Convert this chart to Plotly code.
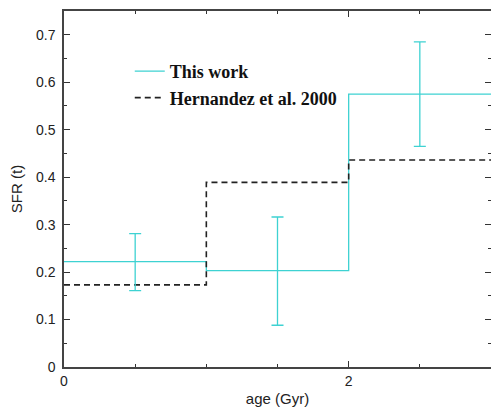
import plotly.graph_objects as go

# Data
age_edges = [0, 1, 2, 3]
sfr_this_work = [0.222, 0.203, 0.575]
age_mid = [0.5, 1.5, 2.5]
err_upper = [0.281, 0.316, 0.685]
err_lower = [0.161, 0.088, 0.465]
sfr_hernandez = [0.173, 0.389, 0.436]

CYAN = "#3ed2d2"

fig = go.Figure()

fig.add_trace(go.Scatter(
    x=age_edges, y=sfr_this_work + [sfr_this_work[-1]],
    mode="lines", line=dict(color=CYAN, width=1.3, shape="hv"),
    name="<b>This work</b>",
))
fig.add_trace(go.Scatter(
    x=age_edges, y=sfr_hernandez + [sfr_hernandez[-1]],
    mode="lines", line=dict(color="#222222", width=1.6, shape="hv", dash="6px,4px"),
    name="<b>Hernandez et al. 2000</b>",
))
fig.add_trace(go.Scatter(
    x=age_mid, y=sfr_this_work,
    mode="markers", marker=dict(size=1, color=CYAN, opacity=0),
    error_y=dict(type="data", symmetric=False,
                 array=[u - v for u, v in zip(err_upper, sfr_this_work)],
                 arrayminus=[v - l for v, l in zip(sfr_this_work, err_lower)],
                 color=CYAN, thickness=1.3, width=6),
    showlegend=False, hoverinfo="skip",
))

axis_common = dict(
    showgrid=False, zeroline=False, showline=True, linecolor="#444444", linewidth=1.5,
    mirror="allticks", ticks="inside", tickcolor="#333333", automargin=False,
    tickfont=dict(family="Liberation Sans, Arial, sans-serif", size=14, color="#222222"),
)

fig.update_xaxes(
    range=[0, 3], tickvals=[0, 2], ticklen=6, tickwidth=1,
    minor=dict(dtick=0.5, ticklen=3, ticks="inside", tickcolor="#333333"),
    title=dict(text="age (Gyr)", font=dict(family="Liberation Sans, Arial, sans-serif", size=15, color="#222222"), standoff=6),
    **axis_common,
)
fig.update_yaxes(
    range=[0, 0.75], tickvals=[0, 0.1, 0.2, 0.3, 0.4, 0.5, 0.6, 0.7],
    ticktext=["0", "0.1", "0.2", "0.3", "0.4", "0.5", "0.6", "0.7"],
    ticklen=6, tickwidth=1, ticklabelstandoff=4,
    minor=dict(dtick=0.05, ticklen=3, ticks="inside", tickcolor="#333333"),
    title=dict(text="SFR (t)", font=dict(family="Liberation Sans, Arial, sans-serif", size=15, color="#222222"), standoff=10),
    **axis_common,
)

fig.update_layout(
    width=491, height=410,
    margin=dict(l=64, r=0, t=11, b=43),
    plot_bgcolor="white", paper_bgcolor="white",
    legend=dict(x=0.154, y=0.882, xanchor="left", yanchor="top",
                bgcolor="rgba(0,0,0,0)", borderwidth=0,
                font=dict(family="Liberation Serif, Times New Roman, serif", size=18, color="#111111")),
)

fig.write_html("out.html", config={"displayModeBar": False},
               post_script="document.body.style.margin='0';document.body.style.overflow='hidden';")
